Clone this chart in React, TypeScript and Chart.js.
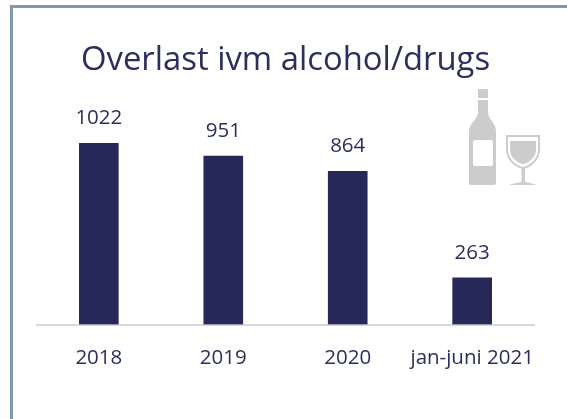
import React, { useEffect, useRef } from "react";
import { Chart, registerables } from "chart.js";

Chart.register(...registerables);

const categories = ["2018", "2019", "2020", "jan-juni 2021"];
const incidents = [1022, 951, 864, 263];
const chartTitle = "Overlast ivm alcohol/drugs";
const navy = "#262958";
const textNavy = "#2c2e5e";
const fontFamily = "'Open Sans', Lato, sans-serif";

const valueLabels = {
  id: "valueLabels",
  afterDatasetsDraw(chart: any) {
    const { ctx } = chart;
    const meta = chart.getDatasetMeta(0);
    ctx.save();
    ctx.font = `20.5px ${fontFamily}`;
    ctx.fillStyle = textNavy;
    ctx.textAlign = "center";
    ctx.textBaseline = "middle";
    meta.data.forEach((bar: any, i: number) => {
      ctx.fillText(String(incidents[i]), bar.x, bar.y - 25);
    });
    ctx.restore();
  },
};

export default function App() {
  const ref = useRef<HTMLCanvasElement>(null);
  useEffect(() => {
    document.body.style.margin = "0";
    document.body.style.background = "#ffffff";
    const chart = new Chart(ref.current!, {
      type: "bar",
      data: {
        labels: categories,
        datasets: [{ data: incidents, backgroundColor: navy, barThickness: 39 }],
      },
      options: {
        animation: false,
        responsive: false,
        layout: { padding: { left: 36.6, right: 32.6, top: 0, bottom: 0 } },
        plugins: {
          legend: { display: false },
          tooltip: { enabled: false },
          title: {
            display: true,
            fullSize: false,
            text: chartTitle,
            color: textNavy,
            font: { family: fontFamily, size: 32.85, weight: "normal" },
            padding: { top: 41, bottom: 31.5 },
          },
        },
        scales: {
          x: {
            grid: { display: false },
            border: { display: true, color: "#d9d9d9", width: 2 },
            ticks: {
              color: textNavy,
              font: { family: fontFamily, size: 20.5 },
              padding: 13,
              maxRotation: 0,
              autoSkip: false,
            },
            afterFit(scale: any) {
              scale.height = 94.5;
            },
          },
          y: { display: false, min: 0, max: 1200 },
        },
      },
      plugins: [valueLabels],
    });
    return () => chart.destroy();
  }, []);

  return (
    <div style={{ position: "relative", width: 567, height: 419, overflow: "hidden" }}>
      <canvas ref={ref} width={567} height={419} style={{ position: "absolute", left: 0, top: 0 }} />
      <div
        style={{
          position: "absolute",
          left: 10,
          top: 5,
          width: 600,
          height: 500,
          borderLeft: "3px solid #8497b0",
          borderTop: "3px solid #8497b0",
        }}
      />
      <svg width={567} height={419} style={{ position: "absolute", left: 0, top: 0 }}>
        <g fill="#cccccc">
          <rect x={478} y={89} width={10} height={9} />
          <path
            fillRule="evenodd"
            d="M478 100H488V112C488 120 496 122 496 132V183Q496 185 494 185H471Q469 185 469 183V132C469 122 478 120 478 112ZM475 140Q473 140 473 142V164Q473 166 475 166H491Q493 166 493 164V142Q493 140 491 140Z"
          />
          <path d="M510 141H536V150C536 157 529 163 523 164C517 163 510 157 510 150Z" />
          <path
            fillRule="evenodd"
            d="M506 135H540V150C540 159 532 167 525 168.500V182C530 183 534 184 537 185H509C512 184 516 183 521.500 182V168.500C514 167 506 159 506 150ZM508 137V150C508 158 516 166 523 167C530 166 538 158 538 150V137Z"
          />
        </g>
      </svg>
    </div>
  );
}
